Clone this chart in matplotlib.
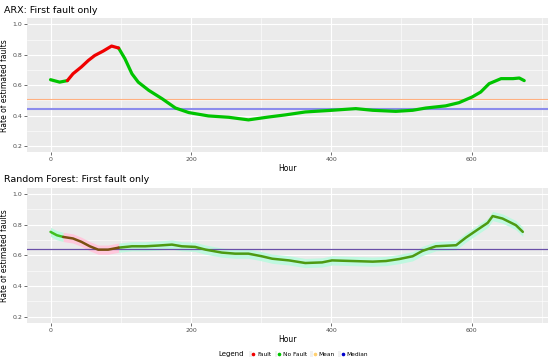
import matplotlib.pyplot as plt
import numpy as np
from matplotlib.lines import Line2D
from matplotlib.patches import Rectangle
from matplotlib.legend_handler import HandlerTuple

# ARX panel
arx_hour = [0, 13, 24, 32, 44, 54, 63, 75, 87, 97, 106, 116, 125, 140, 159, 178,
            197, 225, 254, 282, 311, 335, 363, 401, 435, 459, 492, 516, 535,
            563, 582, 601, 613, 625, 642, 659, 668, 675]
arx_rate = [0.636, 0.62, 0.63, 0.675, 0.72, 0.763, 0.795, 0.824, 0.857, 0.844,
            0.774, 0.675, 0.62, 0.566, 0.511, 0.45, 0.42, 0.398, 0.389, 0.372,
            0.391, 0.405, 0.424, 0.435, 0.446, 0.435, 0.428, 0.435, 0.45, 0.464,
            0.485, 0.523, 0.555, 0.61, 0.643, 0.643, 0.647, 0.63]
arx_fault = (24, 97)
arx_mean = 0.51
arx_median = 0.441

# Random forest panel
rf_hour = [0, 9, 18, 32, 44, 56, 68, 82, 97, 116, 135, 154, 173, 187, 206, 221,
           244, 263, 282, 301, 316, 340, 363, 387, 401, 430, 459, 478, 497, 516,
           530, 549, 578, 592, 611, 623, 630, 644, 663, 673]
rf_rate = [0.753, 0.731, 0.72, 0.71, 0.688, 0.659, 0.637, 0.637, 0.65, 0.659,
           0.659, 0.664, 0.67, 0.659, 0.655, 0.637, 0.618, 0.611, 0.611, 0.594,
           0.578, 0.567, 0.55, 0.554, 0.567, 0.563, 0.559, 0.563, 0.576, 0.594,
           0.629, 0.659, 0.666, 0.716, 0.775, 0.812, 0.856, 0.84, 0.797, 0.753]
rf_fault = (18, 97)
rf_mean = 0.644
rf_median = 0.644
rf_band = 0.03

legend_labels = ["Fault", "No Fault", "Mean", "Median"]

PANEL = "#ebebeb"
TXT = "#4d4d4d"


def style_ax(ax, title):
    ax.set_facecolor(PANEL)
    for s in ax.spines.values():
        s.set_visible(False)
    ax.set_xlim(-33.6, 708.6)
    ax.set_ylim(0.16, 1.04)
    ax.set_xticks([0, 200, 400, 600])
    ax.set_xticks([100, 300, 500, 700], minor=True)
    ax.set_yticks([0.2, 0.4, 0.6, 0.8, 1.0])
    ax.set_yticklabels(["0.2", "0.4", "0.6", "0.8", "1.0"])
    ax.set_yticks([0.3, 0.5, 0.7, 0.9], minor=True)
    ax.grid(which="major", color="white", lw=0.8)
    ax.grid(which="minor", color="white", lw=0.4)
    ax.set_axisbelow(True)
    ax.tick_params(which="major", labelsize=4.5, labelcolor=TXT, color="#333333",
                   length=2, width=0.5, pad=1.5)
    ax.tick_params(which="minor", length=0)
    ax.set_xlabel("Hour", fontsize=5.5, labelpad=1.5)
    ax.set_ylabel("Rate of estimated faults", fontsize=5.5, labelpad=2)
    ax.set_title(title, loc="left", fontsize=6.8, pad=4, x=-0.045)


def split(hour, rate, fault):
    h = np.array(hour)
    r = np.array(rate)
    a = h <= fault[0]
    f = (h >= fault[0]) & (h <= fault[1])
    b = h >= fault[1]
    return h, r, a, f, b


fig = plt.figure(figsize=(5.5, 3.64), dpi=100)
ax1 = fig.add_axes([0.049, 0.582, 0.947, 0.368])
ax2 = fig.add_axes([0.049, 0.113, 0.947, 0.371])

# top panel
style_ax(ax1, "ARX: First fault only")
ax1.axhline(arx_mean, color="#ffb080", lw=0.8)
ax1.axhline(arx_median, color="#8c8cec", lw=1.5)
h, r, a, f, b = split(arx_hour, arx_rate, arx_fault)
ax1.plot(h[a], r[a], color="#00c400", lw=2.3, solid_capstyle="round")
ax1.plot(h[b], r[b], color="#00c400", lw=2.3, solid_capstyle="round")
ax1.plot(h[f], r[f], color="#f00000", lw=2.3, solid_capstyle="round")

# bottom panel
style_ax(ax2, "Random Forest: First fault only")
h, r, a, f, b = split(rf_hour, rf_rate, rf_fault)
ax2.fill_between(h[a], r[a] - rf_band, r[a] + rf_band, color="#bff8e0", lw=0)
ax2.fill_between(h[b], r[b] - rf_band, r[b] + rf_band, color="#bff8e0", lw=0)
ax2.fill_between(h[f], r[f] - rf_band, r[f] + rf_band, color="#ffc8dc", lw=0)
ax2.axhline(rf_mean, color="#c09070", lw=0.5)
ax2.axhline(rf_median, color="#6a50a8", lw=0.9)
ax2.plot(h[a], r[a], color="#40c020", lw=1.8, solid_capstyle="round")
ax2.plot(h[b], r[b], color="#4e9a12", lw=1.8, solid_capstyle="round")
ax2.plot(h[f], r[f], color="#7a5010", lw=1.8, solid_capstyle="round")

# legend
key_colors = ["#f00000", "#00c400", "#ffd070", "#0000cc"]
handles = []
for c in key_colors:
    box = Rectangle((0, 0), 1, 1, facecolor="#f0f0f0", edgecolor="none")
    dot = Line2D([], [], marker="o", ls="none", ms=1.6, color=c)
    handles.append((box, dot))
fig.text(0.397, 0.027, "Legend", fontsize=5, va="center", ha="left")
fig.legend(handles, legend_labels, ncol=4, loc="center left",
           bbox_to_anchor=(0.447, 0.027), frameon=False, fontsize=4.2,
           handlelength=1.0, handleheight=1.0, handletextpad=0.4,
           columnspacing=0.6, borderpad=0,
           handler_map={tuple: HandlerTuple(ndivide=None, pad=0)})

fig.savefig("out.png", dpi=100)
